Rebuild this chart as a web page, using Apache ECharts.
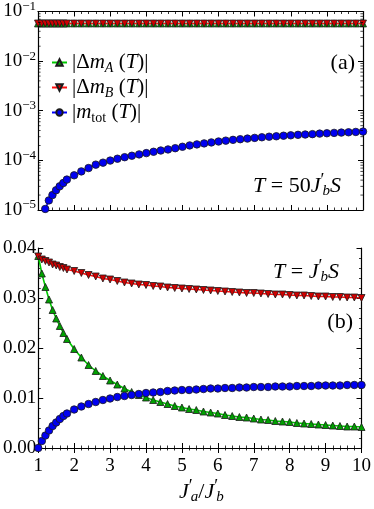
<!DOCTYPE html>
<html><head><meta charset="utf-8">
<script src="https://cdn.jsdelivr.net/npm/echarts@6/dist/echarts.min.js"></script>
<style>html,body{margin:0;padding:0;background:#fff}#c{width:374px;height:509px}</style>
</head><body><div id="c"></div>
<script>
const xValues = [1.0,1.1,1.2,1.3,1.4,1.5,1.6,1.7,1.8,2.0,2.2,2.4,2.6,2.8,3.0,3.2,3.4,3.6,3.8,4.0,4.2,4.4,4.6,4.8,5.0,5.2,5.4,5.6,5.8,6.0,6.2,6.4,6.6,6.8,7.0,7.2,7.4,7.6,7.8,8.0,8.2,8.4,8.6,8.8,9.0,9.2,9.4,9.6,9.8,10.0];

// Panel (a): T = 50 J'_b S (log scale)
const topDeltaA = [0.0575,0.0575,0.0575,0.0575,0.0575,0.0575,0.0575,0.0575,0.0575,0.0575,0.0575,0.0575,0.0575,0.0575,0.0575,0.0575,0.0575,0.0575,0.0575,0.0575,0.0575,0.0575,0.0575,0.0575,0.0575,0.0575,0.0575,0.0575,0.0575,0.0575,0.0575,0.0575,0.0575,0.0575,0.0575,0.0575,0.0575,0.0575,0.0575,0.0575,0.0575,0.0575,0.0575,0.0575,0.0575,0.0575,0.0575,0.0575,0.0575,0.0575];
const topDeltaB = [0.0572,0.0572,0.0572,0.0572,0.0572,0.0572,0.0572,0.0572,0.0572,0.0572,0.0572,0.0572,0.0572,0.0572,0.0572,0.0572,0.0572,0.0572,0.0572,0.0572,0.0572,0.0572,0.0572,0.0572,0.0572,0.0572,0.0572,0.0572,0.0572,0.0572,0.0572,0.0572,0.0572,0.0572,0.0572,0.0572,0.0572,0.0572,0.0572,0.0572,0.0572,0.0572,0.0572,0.0572,0.0572,0.0572,0.0572,0.0572,0.0572,0.0572];
const topMtot = [null,5.5e-6,1.05e-5,1.56e-5,2.0e-5,2.5e-5,3.0e-5,3.5e-5,4.1e-5,5.0e-5,6.0e-5,7.0e-5,8.2e-5,9.0e-5,9.9e-5,1.08e-4,1.16e-4,1.24e-4,1.32e-4,1.40e-4,1.49e-4,1.58e-4,1.66e-4,1.76e-4,1.88e-4,2.00e-4,2.10e-4,2.20e-4,2.30e-4,2.40e-4,2.50e-4,2.59e-4,2.67e-4,2.75e-4,2.84e-4,2.92e-4,3.00e-4,3.06e-4,3.14e-4,3.20e-4,3.27e-4,3.32e-4,3.38e-4,3.46e-4,3.52e-4,3.58e-4,3.63e-4,3.68e-4,3.74e-4,3.80e-4];

// Panel (b): T = J'_b S (linear scale)
const botDeltaA = [0.0384,0.0349,0.0322,0.0297,0.0276,0.0259,0.0244,0.0230,0.0218,0.0198,0.0181,0.0166,0.0154,0.0144,0.0135,0.0127,0.0119,0.0112,0.0106,0.0101,0.0096,0.0092,0.0088,0.0084,0.0081,0.0078,0.0076,0.0073,0.0071,0.0069,0.0066,0.0064,0.0062,0.0061,0.0059,0.0057,0.0056,0.0054,0.0053,0.0052,0.0050,0.0049,0.0048,0.0047,0.0046,0.0045,0.0044,0.0043,0.0043,0.0042];
const botDeltaB = [0.0383,0.0377,0.0374,0.0371,0.0367,0.0365,0.0362,0.0360,0.0357,0.0354,0.0350,0.0346,0.0343,0.0339,0.0337,0.0334,0.0331,0.0329,0.0327,0.0326,0.0324,0.0323,0.0321,0.0320,0.0319,0.0318,0.0317,0.0316,0.0315,0.0314,0.0313,0.0312,0.0311,0.0310,0.0310,0.0309,0.0308,0.0307,0.0307,0.0306,0.0305,0.0305,0.0304,0.0303,0.0303,0.0302,0.0302,0.0301,0.0301,0.0300];
const botMtot = [0.0000,0.0014,0.0025,0.0035,0.0044,0.0051,0.0058,0.0064,0.0069,0.0077,0.0083,0.0088,0.0092,0.0096,0.0099,0.0102,0.0104,0.0106,0.0108,0.0110,0.0111,0.0112,0.0114,0.0115,0.0116,0.0116,0.0117,0.0118,0.0119,0.0119,0.0120,0.0120,0.0121,0.0121,0.0122,0.0122,0.0122,0.0123,0.0123,0.0123,0.0124,0.0124,0.0124,0.0125,0.0125,0.0125,0.0125,0.0126,0.0126,0.0126];

// Minor tick positions of the log axis
const logMinorTicks = [2e-5,3e-5,4e-5,5e-5,6e-5,7e-5,8e-5,9e-5,2e-4,3e-4,4e-4,5e-4,6e-4,7e-4,8e-4,9e-4,2e-3,3e-3,4e-3,5e-3,6e-3,7e-3,8e-3,9e-3,2e-2,3e-2,4e-2,5e-2,6e-2,7e-2,8e-2,9e-2];
const xRange = [1, 10];

const FONT = 'Liberation Serif';
const GREEN = {fill:'#00a000', line:'#00c800'};
const RED = {fill:'#d00000', line:'#ff1010'};
const BLUE = {fill:'#0000f0', line:'#0000ff'};

function pairs(ys){ return xValues.map((x,i)=>[x, ys[i]==null ? '-' : ys[i]]); }

function makeRich(fs){
  const ss = Math.round(fs*0.66);
  return {
    n:{fontFamily:FONT,fontSize:fs,color:'#000'},
    i:{fontFamily:FONT,fontSize:fs,fontStyle:'italic',color:'#000'},
    s:{fontFamily:FONT,fontSize:ss,fontStyle:'italic',color:'#000',padding:[Math.round(fs*0.5),0,0,0]},
    sr:{fontFamily:FONT,fontSize:ss,color:'#000',padding:[Math.round(fs*0.5),0,0,0]},
    p:{fontFamily:FONT,fontSize:Math.round(fs*0.8),color:'#000',padding:[0,0,Math.round(fs*0.45),0],width:2},
    e:{fontFamily:FONT,fontSize:ss,color:'#000',padding:[0,0,Math.round(fs*0.5),0]}
  };
}
const richLegend = makeRich(21);
const richAnn = makeRich(22);
const richAxis = makeRich(19);
const legendNames = {
  A:'{n||Δ}{i|m}{s|A}{n| (}{i|T}{n|)|}',
  B:'{n||Δ}{i|m}{s|B}{n| (}{i|T}{n|)|}',
  tot:'{n||}{i|m}{sr|tot}{n| (}{i|T}{n|)|}'
};

function lineSeries(name, ys, xi, yi, col, sym, rot, size){
  return {
    name, type:'line', xAxisIndex:xi, yAxisIndex:yi, data:pairs(ys),
    symbol:sym, symbolRotate:rot, symbolSize:size, showAllSymbol:true, clip:true,
    itemStyle:{color:col.fill, borderColor:'#1a1a1a', borderWidth:0.8},
    lineStyle:{color:col.line, width:1.6},
    emphasis:{disabled:true}
  };
}

const axisLine = {show:true, lineStyle:{color:'#000', width:1.2}};
function xAx(grid, pos, labels){
  return {
    type:'value', gridIndex:grid, position:pos, min:xRange[0], max:xRange[1], interval:1,
    axisLine, axisTick:{show:true, inside:true, length:5, lineStyle:{color:'#000',width:1}},
    minorTick:{show:true, splitNumber:5, length:2.5, lineStyle:{color:'#000',width:0.8}},
    splitLine:{show:false}, minorSplitLine:{show:false},
    axisLabel:{show:labels, fontFamily:FONT, fontSize:19, color:'#000', margin:9}
  };
}
function yLin(grid, pos, labels){
  return {
    type:'value', gridIndex:grid, position:pos, min:0, max:0.04, interval:0.01,
    axisLine, axisTick:{show:true, inside:true, length:5, lineStyle:{color:'#000',width:1}},
    minorTick:{show:true, splitNumber:5, length:2.5, lineStyle:{color:'#000',width:0.8}},
    splitLine:{show:false},
    axisLabel:{show:labels, fontFamily:FONT, fontSize:19, color:'#000', margin:2,
      formatter:v=>v.toFixed(2)}
  };
}
function yLog(grid, pos, labels){
  return {
    type:'log', logBase:10, gridIndex:grid, position:pos, min:1e-5, max:0.1,
    axisLine, axisTick:{show:true, inside:true, length:5, lineStyle:{color:'#000',width:1}},
    splitLine:{show:false},
    axisLabel:{show:labels, margin:2, color:'#000',
      formatter:v=>{const e=Math.round(Math.log10(v)); return '{n|10}{e|−'+Math.abs(e)+'}';},
      rich:richAxis}
  };
}
function minorTicksSeries(xi, yi, x, off){
  return {
    type:'scatter', xAxisIndex:xi, yAxisIndex:yi, silent:true, clip:false, z:10,
    data:logMinorTicks.map(v=>[x, v]),
    symbol:'rect', symbolSize:[2.6,0.9], symbolOffset:[off,0],
    itemStyle:{color:'#000'}, emphasis:{disabled:true}
  };
}

const chart = echarts.init(document.getElementById('c'), null, {renderer:'canvas'});
chart.setOption({
  animation:false,
  backgroundColor:'#fff',
  grid:[
    {left:38, top:10, width:325, height:200},
    {left:38, top:248, width:325, height:200}
  ],
  xAxis:[xAx(0,'bottom',false), xAx(0,'top',false), xAx(1,'bottom',true), xAx(1,'top',false)],
  yAxis:[yLog(0,'left',true), yLog(0,'right',false), yLin(1,'left',true), yLin(1,'right',false)],
  legend:{
    data:['A','B','tot'], orient:'vertical', left:46, top:47,
    itemWidth:15, itemHeight:8, itemGap:2, selectedMode:false,
    formatter:n=>legendNames[n],
    textStyle:{fontFamily:FONT, fontSize:21, color:'#000', rich:richLegend}
  },
  series:[
    lineSeries('A', topDeltaA, 0, 0, GREEN, 'triangle', 0, 7),
    lineSeries('B', topDeltaB, 0, 0, RED, 'triangle', 180, 7),
    lineSeries('tot', topMtot, 0, 0, BLUE, 'circle', 0, 7.5),
    lineSeries('A', botDeltaA, 2, 2, GREEN, 'triangle', 0, 7),
    lineSeries('B', botDeltaB, 2, 2, RED, 'triangle', 180, 7),
    lineSeries('tot', botMtot, 2, 2, BLUE, 'circle', 0, 7.5),
    minorTicksSeries(0, 0, xRange[0], 1.3),
    minorTicksSeries(0, 0, xRange[1], -1.3)
  ],
  graphic:[
    {type:'text', x:355, y:63, style:{text:'(a)', font:'22px "Liberation Serif"', fill:'#000', align:'right', verticalAlign:'middle', textAlign:'right', textVerticalAlign:'middle'}},
    {type:'text', x:253, y:186, style:{text:'{i|T}{n| = 50}{i|J}{p|′}{s|b}{i|S}', rich:richAnn, fill:'#000', align:'left', verticalAlign:'middle', textAlign:'left', textVerticalAlign:'middle'}},
    {type:'text', x:273, y:272, style:{text:'{i|T}{n| = }{i|J}{p|′}{s|b}{i|S}', rich:richAnn, fill:'#000', align:'left', verticalAlign:'middle', textAlign:'left', textVerticalAlign:'middle'}},
    {type:'text', x:353, y:322, style:{text:'(b)', font:'22px "Liberation Serif"', fill:'#000', align:'right', verticalAlign:'middle', textAlign:'right', textVerticalAlign:'middle'}},
    {type:'text', x:179, y:492, style:{text:'{i|J}{p|′}{s|a}{n|/}{i|J}{p|′}{s|b}', rich:richAnn, fill:'#000', align:'left', verticalAlign:'middle', textAlign:'left', textVerticalAlign:'middle'}}
  ]
});
</script>
</body></html>
